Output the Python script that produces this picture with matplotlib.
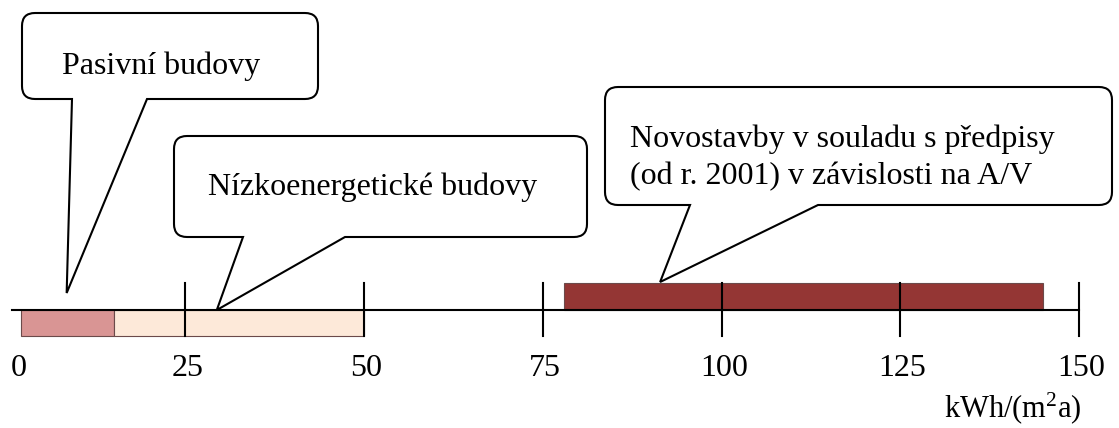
import numpy as np
import matplotlib
matplotlib.use('Agg')
import matplotlib.pyplot as plt
from matplotlib.path import Path
from matplotlib.patches import PathPatch

plt.rcParams['font.family'] = ['Liberation Serif', 'DejaVu Serif']
plt.rcParams['mathtext.fontset'] = 'custom'
plt.rcParams['mathtext.rm'] = 'Liberation Serif'
plt.rcParams['mathtext.it'] = 'Liberation Serif'

# ---------------- data (kWh/(m2a))
tick_values = [25, 50, 75, 100, 125, 150]
tick_labels = ['25', '50', '75', '100', '125', '150']
band_names = ['Pasivní budovy', 'Nízkoenergetické budovy',
              'Novostavby v souladu s předpisy\n(od r. 2001) v závislosti na A/V']
band_start = [2, 15, 78]
band_end = [15, 50, 145]
band_colors = ['#D99594', '#FDE9D9', '#943634']
unit_label = 'kWh/(m$^2$a)'

W, H = 1119, 428
fig = plt.figure(figsize=(W / 100, H / 100), dpi=100)
ax = fig.add_axes([0, 0, 1, 1])
# x in kWh, y in pixels from top
px0, ppu = 6.6, 7.15
ax.set_xlim(-px0 / ppu, (W - px0) / ppu)
ax.set_ylim(H, 0)
ax.axis('off')

# ---------------- axis line + ticks
y_axis = 310
ax.plot([0.8, 150], [y_axis, y_axis], color='black', lw=1.5, zorder=3)
for v in tick_values:
    ax.plot([v, v], [283, 336], color='black', lw=1.5, zorder=4)

# ---------------- bands (first two below axis, third above)
band_y = [(310, 336), (310, 336), (283, 310)]
for s, e, c, (ya, yb) in zip(band_start, band_end, band_colors, band_y):
    ax.barh((ya + yb) / 2, e - s, height=yb - ya, left=s, color=c,
            edgecolor='#6b4a4a', lw=0.8, zorder=2)

# ---------------- tick labels
ax.text(0.6, 369, '0', ha='left', va='center', fontsize=23)
for v, t in zip(tick_values, tick_labels):
    ax.text(v + 0.3, 369, t, ha='center', va='center', fontsize=23)
ax.text((1082 - px0) / ppu, 408, unit_label, ha='right', va='center', fontsize=22)

# ---------------- callouts (overlay in pixel units)
ov = fig.add_axes([0, 0, 1, 1])
ov.set_xlim(0, W)
ov.set_ylim(H, 0)
ov.axis('off')


def callout(x0, y0, x1, y1, tl, tr, tip, r=13):
    verts = [(x0 + r, y0), (x1 - r, y0), (x1, y0), (x1, y0 + r),
             (x1, y1 - r), (x1, y1), (x1 - r, y1),
             (tr, y1), tip, (tl, y1),
             (x0 + r, y1), (x0, y1), (x0, y1 - r),
             (x0, y0 + r), (x0, y0), (x0 + r, y0), (x0 + r, y0)]
    codes = [Path.MOVETO, Path.LINETO, Path.CURVE3, Path.CURVE3,
             Path.LINETO, Path.CURVE3, Path.CURVE3,
             Path.LINETO, Path.LINETO, Path.LINETO,
             Path.LINETO, Path.CURVE3, Path.CURVE3,
             Path.LINETO, Path.CURVE3, Path.CURVE3, Path.CLOSEPOLY]
    ov.add_patch(PathPatch(Path(verts, codes), facecolor='white',
                           edgecolor='black', lw=1.5, zorder=5))


def tip_px(v, y):
    return (px0 + ppu * v, y)


callout(22, 13, 318, 99, 72, 147, tip_px(8.4, 293))
callout(174, 136, 587, 237, 243, 345, tip_px(29.4, 310))
callout(605, 87, 1112, 205, 690, 818, tip_px(91.4, 282))

ov.text(62, 66, band_names[0], ha='left', va='center', fontsize=23, zorder=6)
ov.text(208, 187, band_names[1], ha='left', va='center', fontsize=23, zorder=6)
ov.text(630, 158, band_names[2], ha='left', va='center', fontsize=23,
        linespacing=1.37, zorder=6)

fig.savefig('out.png', dpi=100)
